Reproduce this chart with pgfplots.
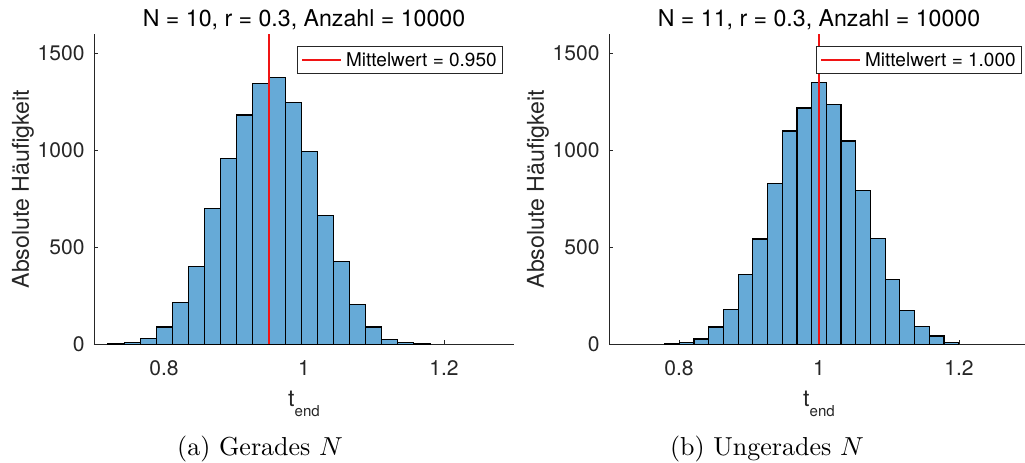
\documentclass[border=0pt]{standalone}
\usepackage{fontspec}
\usepackage{pgfplots}
\usepackage{pgfplotstable}
\pgfplotsset{compat=1.18}
\newfontfamily\hv{TeX Gyre Heros}
\definecolor{barfill}{RGB}{102,170,215}
\definecolor{axgray}{RGB}{38,38,38}
\definecolor{meanred}{RGB}{240,20,20}

\pgfplotstableread{
x y
0.720 3
0.743 9
0.766 31
0.789 89
0.812 217
0.835 403
0.858 702
0.881 956
0.904 1182
0.927 1343
0.950 1377
0.973 1245
0.996 992
1.019 666
1.042 425
1.065 207
1.088 89
1.111 26
1.134 10
1.157 2
1.180 0
}\histA

\pgfplotstableread{
x y
0.7795 2
0.8005 10
0.8215 27
0.8425 89
0.8635 180
0.8845 358
0.9055 543
0.9265 828
0.9475 1100
0.9685 1218
0.9895 1350
1.0105 1236
1.0315 1048
1.0525 795
1.0735 544
1.0945 334
1.1155 174
1.1365 93
1.1575 43
1.1785 9
1.1995 0
}\histB

\pgfplotsset{
  histaxis/.style={
    scale only axis, width=161.49pt, height=119.31pt,
    xmin=0.7, xmax=1.3, ymin=0, ymax=1600,
    xtick={0.8,1,1.2}, ytick={0,500,1000,1500},
    axis x line*=bottom, axis y line*=left,
    axis line style={-, draw=axgray, line width=0.3pt},
    tick align=inside, major tick length=1.5pt,
    tick style={draw=axgray, line width=0.3pt},
    scaled ticks=false,
    /pgf/number format/assume math mode=true,
    /pgf/number format/1000 sep={},
    ticklabel style={font=\hv\fontsize{8.1}{9.7}\selectfont, text=axgray, inner sep=0pt},
    xticklabel style={anchor=north, yshift=-6.15pt},
    yticklabel style={anchor=east, xshift=-3.46pt},
    every axis title shift=0pt,
    title style={at={(axis description cs:0.5,1)}, anchor=base, yshift=2.81pt,
      font=\hv\fontsize{8.9}{10.7}\selectfont, inner sep=0pt},
    xlabel style={at={(axis description cs:0.5,-0.2011)}, anchor=base,
      font=\hv\fontsize{8.9}{10.7}\selectfont, text=axgray, inner sep=0pt},
    ylabel style={at={(axis description cs:-0.1548,0.5)}, anchor=base,
      font=\hv\fontsize{8.9}{10.7}\selectfont, text=axgray, inner sep=0pt},
    xlabel={t\raisebox{-3.65pt}{\fontsize{5.8}{7}\selectfont end}},
    ylabel={Absolute Häufigkeit},
    legend style={anchor=north east, draw=axgray, line width=0.3pt, fill=white,
      inner sep=0pt, inner xsep=0pt, inner ysep=0pt, row sep=0pt, column sep=0pt,
      nodes={inner sep=0pt, text depth=0pt, font=\hv\fontsize{7.3}{8.8}\selectfont, text=black},
      cells={anchor=center}},
    legend image code/.code={\path[draw=none,fill=none] (-1.92pt,-5.19pt) rectangle (16.92pt,5.19pt);
      \path[draw=meanred, line width=0.55pt] (0pt,0pt) -- (15pt,0pt);},
  }
}

\begin{document}
\begin{tikzpicture}
\useasboundingbox (0,0) rectangle (394.11pt,178.02pt);

\begin{axis}[histaxis, at={(36.14pt,45.64pt)}, anchor=south west,
  title={N = 10, r = 0.3, Anzahl = 10000},
  legend style={at={(axis description cs:0.9738,0.9613)}}]
\addplot[ybar interval, fill=barfill, draw=black, line width=0.45pt, forget plot] table {\histA};
\addplot[color=meanred, line width=0.4pt] coordinates {(0.95,0) (0.95,1600)};
\addlegendentry{Mittelwert = 0.950\kern2.3pt}
\end{axis}

\begin{axis}[histaxis, at={(234.16pt,45.64pt)}, anchor=south west,
  title={N = 11, r = 0.3, Anzahl = 10000},
  legend style={at={(axis description cs:0.9833,0.9613)}}]
\addplot[ybar interval, fill=barfill, draw=black, line width=0.45pt, forget plot] table {\histB};
\addplot[color=meanred, line width=0.4pt] coordinates {(1.0,0) (1.0,1600)};
\addlegendentry{Mittelwert = 1.000\kern2.3pt}
\end{axis}

\node[anchor=base, font=\fontsize{10}{12}\selectfont, inner sep=0pt] at (99.97pt,2.69pt) {(a) Gerades $N$};
\node[anchor=base, font=\fontsize{10}{12}\selectfont, inner sep=0pt] at (294.9pt,2.69pt) {(b) Ungerades $N$};
\end{tikzpicture}
\end{document}
